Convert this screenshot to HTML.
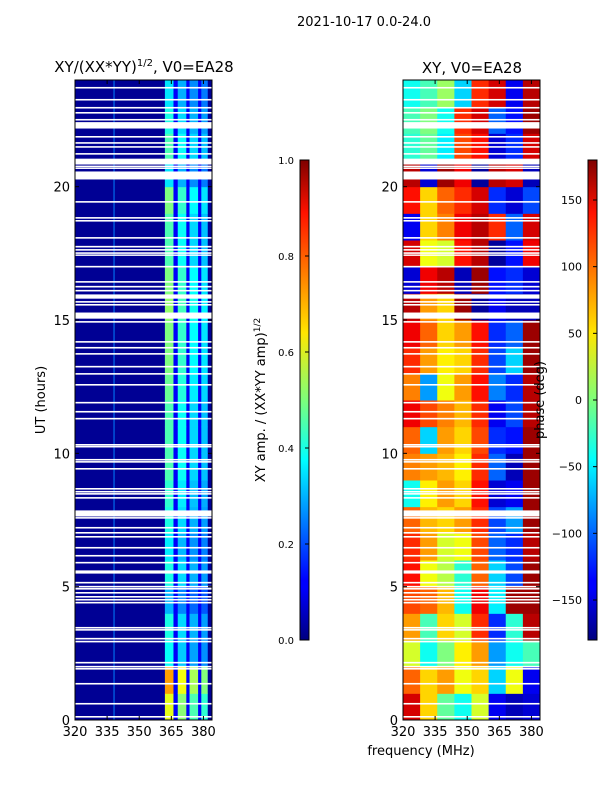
<!DOCTYPE html>
<html><head><meta charset="utf-8"><style>
body{margin:0;background:#fff;}
svg text{font-family:"DejaVu Sans","Liberation Sans",sans-serif;}
</style></head><body>
<svg id="chart" width="600" height="800" xmlns="http://www.w3.org/2000/svg">
<defs>
<linearGradient id="jet" x1="0" y1="1" x2="0" y2="0">
<stop offset="0" stop-color="#00007f"/><stop offset="0.11" stop-color="#0000ff"/><stop offset="0.125" stop-color="#0000ff"/>
<stop offset="0.34" stop-color="#00dbff"/><stop offset="0.375" stop-color="#00ffff"/><stop offset="0.5" stop-color="#7dff7a"/>
<stop offset="0.64" stop-color="#ffe600"/><stop offset="0.66" stop-color="#ffd400"/><stop offset="0.89" stop-color="#ff1200"/><stop offset="1" stop-color="#7f0000"/>
</linearGradient>
</defs>
<g id="left"></g>
<g id="right"></g>
<g id="axes"></g>
</svg>
<script>
const hours=[0,1,2,3,4,5,6,7,8,9,10,11,12,13,14,15,16,17,18,19,20,21,22,23];
const ampRow=[0.6,0.72,0.38,0.4,0.3,0.4,0.36,0.4,0.42,0.45,0.45,0.45,0.48,0.5,0.5,0.52,0.5,0.45,0.45,0.5,0.35,0.45,0.4,0.35];
const ampBandLo=[362,368,373.5,379];
const ampBandHi=[366,372,377.5,382];
const ampBandGain=[1.0,0.85,0.75,0.7];
const phaseCols=[320,328,336,344,352,360,368,376];
const phase=[
[150,60,-10,-40,30,-140,-160,-150],
[100,60,80,40,60,-60,40,-140],
[30,-40,0,50,80,-80,-40,-20],
[80,-20,60,30,120,-120,-30,160],
[110,100,70,-40,140,-50,170,170],
[130,40,20,-30,100,-60,-110,170],
[120,80,30,40,110,-100,-120,160],
[100,70,60,80,120,-110,-80,170],
[-40,50,80,60,130,-150,-140,170],
[90,80,70,50,120,-100,-160,170],
[100,-60,80,60,110,-120,-130,170],
[140,110,90,70,120,-140,-110,160],
[90,-80,40,80,130,-90,-120,160],
[120,80,50,60,120,-110,-60,170],
[140,100,60,80,130,-120,-100,170],
[160,80,60,170,-170,-140,-160,-160],
[-150,140,160,-160,170,-130,-120,-150],
[150,40,30,130,160,-170,-130,140],
[-140,60,90,140,160,120,-100,150],
[130,60,100,120,150,-120,-150,-110],
[160,-150,170,140,-170,160,150,-160],
[-30,-10,-50,110,130,-150,-120,150],
[-20,0,-40,120,150,-100,-130,170],
[-40,-20,10,-60,120,150,-140,160]];
const flagStart=[0.09,0.58,1.33,1.89,1.97,2.12,2.91,3.02,3.35,3.43,4.37,4.48,4.59,4.74,4.89,4.97,5.12,5.49,5.87,6.13,6.43,6.84,6.99,7.18,7.55,7.63,8.3,8.45,8.53,8.64,9.39,9.65,9.73,10.22,10.29,11.27,11.53,11.87,12.54,12.95,13.22,13.7,13.93,14.15,14.9,15.05,15.54,15.65,15.8,16.07,16.22,16.4,16.97,17.42,17.48,17.6,17.72,18.05,18.69,18.8,19.4,20.27,20.68,20.75,20.83,21.2,21.46,21.61,21.84,22.18,22.48,22.74,22.93,23.23,23.68];
const flagEnd=[0.15,0.64,1.39,1.95,2.03,2.18,2.97,3.08,3.41,3.49,4.43,4.54,4.65,4.8,4.95,5.03,5.18,5.61,5.93,6.19,6.49,6.9,7.05,7.24,7.61,7.86,8.36,8.51,8.59,8.7,9.45,9.71,9.79,10.28,10.35,11.33,11.59,11.93,12.6,13.01,13.28,13.76,13.99,14.21,14.96,15.28,15.6,15.71,15.96,16.13,16.28,16.46,17.03,17.46,17.54,17.66,17.78,18.11,18.75,18.86,19.46,20.57,20.72,20.79,21.05,21.26,21.52,21.67,21.9,22.42,22.54,22.8,22.99,23.29,23.74];
const xTicks=[320,335,350,365,380];
const yTicks=[0,5,10,15,20];
const ampTicks=[0.0,0.2,0.4,0.6,0.8,1.0];
const phTicks=[-150,-100,-50,0,50,100,150];

const NS="http://www.w3.org/2000/svg";
function jet(v){v=Math.max(0,Math.min(1,v));
 const c=x=>Math.round(255*Math.max(0,Math.min(1,x)));
 return `rgb(${c(1.5-Math.abs(4*v-3))},${c(1.5-Math.abs(4*v-2))},${c(1.5-Math.abs(4*v-1))})`;}
function el(tag,attrs,parent,text){const e=document.createElementNS(NS,tag);for(const k in attrs)e.setAttribute(k,attrs[k]);if(text!==undefined)e.textContent=text;parent.appendChild(e);return e;}
const Y0=720,Y1=80;
const yS=h=>Y0-(h/24)*(Y0-Y1);
const xL=f=>75+(f-320)/(384-320)*137;
const xR=f=>403+(f-320)/(384-320)*137;
const L=document.getElementById('left'),R=document.getElementById('right'),A=document.getElementById('axes');
el('rect',{x:75,y:80,width:137,height:640,fill:jet(0.02)},L);
el('rect',{x:xL(362),y:80,width:xL(382)-xL(362),height:640,fill:jet(0.12)},L);
el('rect',{x:xL(338),y:80,width:1,height:640,fill:jet(0.25)},L);
hours.forEach((h,i)=>{
 ampBandLo.forEach((lo,b)=>{
  const r=el('rect',{x:xL(lo),y:yS(h+1),width:xL(ampBandHi[b])-xL(lo),height:yS(h)-yS(h+1)+0.5,fill:jet(ampRow[i]*ampBandGain[b])},L);
  
  
 });
 phaseCols.forEach((f,j)=>{
  const hi=j<phaseCols.length-1?phaseCols[j+1]:384;
  const r=el('rect',{x:xR(f),y:yS(h+1),width:xR(hi)-xR(f)+0.5,height:yS(h)-yS(h+1)+0.5,fill:jet((phase[i][j]+180)/360)},R);
  
  
 });
});
flagStart.forEach((s,i)=>{
 [[75,L],[403,R]].forEach(([x0,g])=>{
  const r=el('rect',{x:x0,y:yS(flagEnd[i]),width:137,height:Math.max(1.5,yS(s)-yS(flagEnd[i])),fill:'#fff'},g);
  
  
 });
});
[[75,xL],[403,xR]].forEach(([x0,xf],p)=>{
 el('rect',{x:x0,y:80,width:137,height:640,fill:'none',stroke:'#000','stroke-width':1},A);
 xTicks.forEach(t=>{const x=xf(t);
  el('line',{x1:x,y1:720,x2:x,y2:716,stroke:'#000'},A);el('line',{x1:x,y1:80,x2:x,y2:84,stroke:'#000'},A);
  const tx=el('text',{x:x,y:736,'font-size':13,'text-anchor':'middle'},A,String(t));
  });
 yTicks.forEach(t=>{const y=yS(t);
  el('line',{x1:x0,y1:y,x2:x0+4,y2:y,stroke:'#000'},A);el('line',{x1:x0+137,y1:y,x2:x0+133,y2:y,stroke:'#000'},A);
  const tx=el('text',{x:x0-5,y:y+5,'font-size':13,'text-anchor':'end'},A,String(t));
  });
});
el('rect',{x:300,y:160,width:9,height:480,fill:'url(#jet)',stroke:'#000','stroke-width':1},A);
el('rect',{x:588,y:160,width:9,height:480,fill:'url(#jet)',stroke:'#000','stroke-width':1},A);
ampTicks.forEach(t=>{const y=640-t*480;
 el('line',{x1:305,y1:y,x2:309,y2:y,stroke:'#000'},A);
 const tx=el('text',{x:294,y:y+4,'font-size':10,'text-anchor':'end'},A,t.toFixed(1));
 });
phTicks.forEach(t=>{const y=640-(t+180)/360*480;
 el('line',{x1:593,y1:y,x2:597,y2:y,stroke:'#000'},A);
 const tx=el('text',{x:582,y:y+4,'font-size':11,'text-anchor':'end'},A,t<0?'\u2212'+(-t):String(t));
 });
</script>
<svg width="600" height="800" style="position:absolute;left:0;top:0" xmlns="http://www.w3.org/2000/svg">
<text x="364" y="26" font-size="13" text-anchor="middle">2021-10-17 0.0-24.0</text>
<text x="144" y="72" font-size="15" text-anchor="middle">XY/(XX*YY)<tspan dy="-6" font-size="10">1/2</tspan><tspan dy="6">, V0=EA28</tspan></text>
<text x="472" y="73" font-size="15" text-anchor="middle">XY, V0=EA28</text>
<text transform="translate(45,400) rotate(-90)" font-size="13" text-anchor="middle">UT (hours)</text>
<text transform="translate(265,400) rotate(-90)" font-size="13" text-anchor="middle">XY amp. / (XX*YY amp)<tspan dy="-5" font-size="9">1/2</tspan></text>
<text transform="translate(544,400) rotate(-90)" font-size="13" text-anchor="middle">phase (deg)</text>
<text x="421" y="755" font-size="13" text-anchor="middle">frequency (MHz)</text>
</svg>
</body></html>
